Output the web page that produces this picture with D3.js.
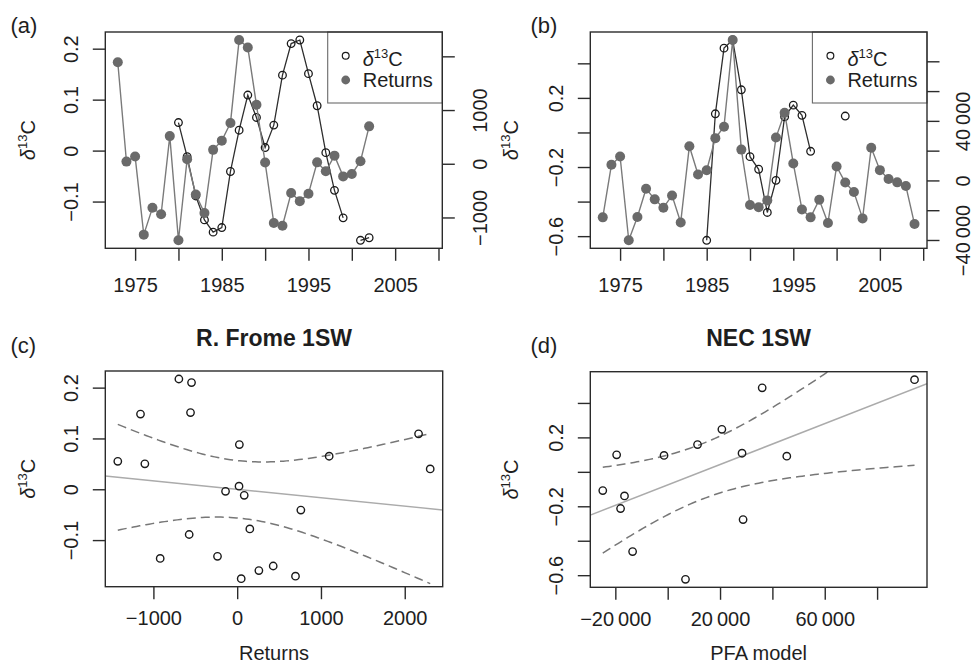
<!DOCTYPE html>
<html><head><meta charset="utf-8">
<script src="https://cdn.jsdelivr.net/npm/d3@7"></script>
<style>
body{margin:0;background:#fff}
svg{display:block}
</style>
</head><body>
<svg id="chart" width="972" height="663"></svg>
<script>
// ---------------- data ----------------
const yearsA = [1973,1974,1975,1976,1977,1978,1979,1980,1981,1982,1983,1984,1985,1986,1987,1988,1989,1990,1991,1992,1993,1994,1995,1996,1997,1998,1999,2000,2001,2002];
const returnsA = [1890,40,135,-1320,-820,-940,515,-1425,84,-573,-919,259,430,760,2304,2165,1098,22,-1102,-1154,-545,-696,-557,26,-139,151,-235,-192,48,696];
const d13cA = [null,null,null,null,null,null,null,0.055,-0.012,-0.089,-0.136,-0.160,-0.151,-0.041,0.040,0.109,0.065,0.006,0.050,0.148,0.210,0.217,0.151,0.088,-0.004,-0.078,-0.132,null,-0.176,-0.171];

const yearsB = [1973,1974,1975,1976,1977,1978,1979,1980,1981,1982,1983,1984,1985,1986,1987,1988,1989,1990,1991,1992,1993,1994,1995,1996,1997,1998,1999,2000,2001,2002,2003,2004,2005,2006,2007,2008,2009];
const returnsB = [-24800,10500,16100,-40200,-24600,-5600,-12700,-18300,-10100,-28200,23000,4000,6800,28400,36100,94300,20700,-16500,-18000,-13400,28800,45500,11400,-19500,-24800,-13000,-28600,9400,-1400,-7800,-25500,21900,6900,900,-1300,-3800,-29300];
const d13cB = [null,null,null,null,null,null,null,null,null,null,null,null,-0.624,0.108,0.488,0.535,0.247,-0.140,-0.213,-0.463,-0.277,0.091,0.158,0.099,-0.109,null,null,null,0.095,null,null,null,null,null,null,null,null];

const yearTicks = [1975,1980,1985,1990,1995,2000,2005,2010];
const yearTickLabels = [1975,1985,1995,2005];
const dTicksA = [-0.1,0.0,0.1,0.2];
const rTicksA = [-1000,0,1000,2000];
const rTickLabelsA = [-1000,0,1000];
const dTicksB = [-0.6,-0.4,-0.2,0.0,0.2,0.4];
const dTickLabelsB = [-0.6,-0.2,0.2];
const rTicksB = [-40000,-20000,0,20000,40000,60000,80000];
const rTickLabelsB = [-40000,0,40000];
const xTicksC = [-1000,0,1000,2000];
const xTicksD = [-20000,0,20000,40000,60000,80000];
const xTickLabelsD = [-20000,20000,60000];

const panelLabels = ["(a)","(b)","(c)","(d)"];
const titles = ["R. Frome 1SW","NEC 1SW"];
const legendLabels = ["Returns"];
const xTitles = ["Returns","PFA model"];

// t quantiles (0.975) for df = n-2
const tq = {20:2.085963, 12:2.178813};

// ---------------- helpers ----------------
const FONT = '"Liberation Sans", Arial, Helvetica, sans-serif';
const svg = d3.select("#chart");
svg.append("rect").attr("width",972).attr("height",663).attr("fill","#fff");

function padExtent(v){const e=d3.extent(v);const r=e[1]-e[0];return [e[0]-0.04*r,e[1]+0.04*r];}
function fmtNum(d){
  const a=Math.abs(d);let s;
  if(Number.isInteger(d)){s=String(a); if(s.length>4) s=s.slice(0,-3)+"\u2009"+s.slice(-3);}
  else s=a.toFixed(1);
  return (d<0?"\u2212":"")+s;
}
const COL_AX="#2b2b2b";

function box(g,b){
  g.append("rect").attr("x",b.x0).attr("y",b.y0).attr("width",b.x1-b.x0).attr("height",b.y1-b.y0)
   .attr("fill","none").attr("stroke",COL_AX).attr("stroke-width",1.4);
}
function styleAxis(g){
  g.select(".domain").remove();
  g.attr("font-family",FONT).attr("font-size",20).attr("color",COL_AX);
  g.selectAll(".tick line").attr("stroke-width",1.4);
  g.selectAll(".tick text").attr("fill","#1e1e1e");
}
function bottomAxis(g,scale,b,ticks,labels,off){
  g.append("g").attr("transform",`translate(0,${b.y1})`)
   .call(d3.axisBottom(scale).tickValues(ticks).tickSize(12.5).tickFormat(d=>labels.includes(d)?fmtNum(d):""))
   .call(styleAxis)
   .call(a=>a.selectAll(".tick text").attr("y",off).attr("dy",0));
}
function leftAxis(g,scale,b,ticks,labels,off){
  g.append("g").attr("transform",`translate(${b.x0},0)`)
   .call(d3.axisLeft(scale).tickValues(ticks).tickSize(12.5).tickFormat(d=>labels.some(l=>Math.abs(l-d)<1e-9)?fmtNum(d):""))
   .call(styleAxis)
   .call(a=>a.selectAll(".tick text").attr("x",null).attr("dy",0).attr("text-anchor","middle")
        .attr("transform",`translate(${-off},0) rotate(-90)`));
}
function rightAxis(g,scale,b,ticks,labels,off){
  g.append("g").attr("transform",`translate(${b.x1},0)`)
   .call(d3.axisRight(scale).tickValues(ticks).tickSize(12.5).tickFormat(d=>labels.includes(d)?fmtNum(d):""))
   .call(styleAxis)
   .call(a=>a.selectAll(".tick text").attr("x",null).attr("dy",0).attr("text-anchor","middle")
        .attr("transform",`translate(${off},0) rotate(-90)`));
}
function d13cText(t,supSize){
  t.append("tspan").attr("font-style","italic").text("\u03b4");
  t.append("tspan").attr("font-size",supSize).attr("dy",-8).text("13");
  t.append("tspan").attr("dy",8).text("C");
}
function yTitle(g,x,b){
  const t=g.append("text").attr("font-family",FONT).attr("font-size",20).attr("fill","#1e1e1e")
    .attr("text-anchor","middle").attr("transform",`translate(${x},${(b.y0+b.y1)/2}) rotate(-90)`);
  d13cText(t,13);
}
function panelLabel(g,txt,x,y){
  g.append("text").attr("x",x).attr("y",y).attr("font-family",FONT).attr("font-size",22).attr("fill","#1e1e1e").text(txt);
}
function clip(id,b){
  svg.append("clipPath").attr("id",id).append("rect").attr("x",b.x0).attr("y",b.y0).attr("width",b.x1-b.x0).attr("height",b.y1-b.y0);
}
function legend(g,b){
  const w=114.6,h=71,lx=b.x1-w,ly=b.y0;
  g.append("rect").attr("x",lx).attr("y",ly).attr("width",w).attr("height",h).attr("fill","#fff").attr("stroke","#6a6a6a").attr("stroke-width",1.1);
  g.append("circle").attr("cx",lx+18).attr("cy",ly+23.7).attr("r",3.4).attr("fill","none").attr("stroke","#1a1a1a").attr("stroke-width",1.2);
  g.append("circle").attr("cx",lx+18).attr("cy",ly+48).attr("r",4.4).attr("fill","#6a6a6a");
  const t=g.append("text").attr("x",lx+35).attr("y",ly+34).attr("font-family",FONT).attr("font-size",20).attr("fill","#1e1e1e");
  d13cText(t,13);
  g.append("text").attr("x",lx+35).attr("y",ly+54.7).attr("font-family",FONT).attr("font-size",20).attr("fill","#1e1e1e").text(legendLabels[0]);
}

// ---------------- time-series panels ----------------
function tsPanel(id,b,years,ret,d13,opt){
  const g=svg.append("g");
  clip(id,b);
  const x=d3.scaleLinear().domain(padExtent(yearsB)).range([b.x0,b.x1]);
  const yL=d3.scaleLinear().domain(padExtent(d13.filter(v=>v!=null))).range([b.y1,b.y0]);
  const yR=d3.scaleLinear().domain(padExtent(ret)).range([b.y1,b.y0]);
  const dd=years.map((yr,i)=>({yr,v:d13[i]}));
  const rr=years.map((yr,i)=>({yr,v:ret[i]}));
  const pg=g.append("g").attr("clip-path",`url(#${id})`);
  // delta line + open points
  pg.append("path").datum(dd).attr("fill","none").attr("stroke","#2e2e2e").attr("stroke-width",1.3)
    .attr("d",d3.line().defined(d=>d.v!=null).x(d=>x(d.yr)).y(d=>yL(d.v)));
  pg.selectAll("circle.o").data(dd.filter(d=>d.v!=null)).join("circle").attr("class","o")
    .attr("cx",d=>x(d.yr)).attr("cy",d=>yL(d.v)).attr("r",3.8).attr("fill","none").attr("stroke","#1a1a1a").attr("stroke-width",1.3);
  // returns line + filled points
  pg.append("path").datum(rr).attr("fill","none").attr("stroke","#7a7a7a").attr("stroke-width",1.4)
    .attr("d",d3.line().x(d=>x(d.yr)).y(d=>yR(d.v)));
  pg.selectAll("circle.f").data(rr).join("circle").attr("class","f")
    .attr("cx",d=>x(d.yr)).attr("cy",d=>yR(d.v)).attr("r",5).attr("fill","#6a6a6a");
  legend(g,b);
  box(g,b);
  bottomAxis(g,x,b,yearTicks,yearTickLabels,43.5);
  leftAxis(g,yL,b,opt.lt,opt.ll,27);
  rightAxis(g,yR,b,opt.rt,opt.rl,opt.roff);
  yTitle(g,opt.titleX,b);
  panelLabel(g,opt.label,opt.lx,33);
}

const bA={x0:105.3,x1:442.3,y0:32,y1:248.3};
const bB={x0:590.3,x1:927,y0:32,y1:248.3};
const bC={x0:105.3,x1:442.7,y0:371,y1:586.7};
const bD={x0:590.3,x1:927,y0:371.7,y1:587.3};

tsPanel("clipA",bA,yearsA,returnsA,d13cA,{lt:dTicksA,ll:dTicksA,rt:rTicksA,rl:rTickLabelsA,roff:44.4,titleX:34.5,label:panelLabels[0],lx:10.5});
tsPanel("clipB",bB,yearsB,returnsB,d13cB,{lt:dTicksB,ll:dTickLabelsB,rt:rTicksB,rl:rTickLabelsB,roff:43,titleX:518,label:panelLabels[1],lx:530.4});

// ---------------- scatter panels ----------------
function scatterPanel(id,b,years,ret,d13,opt){
  const g=svg.append("g");
  clip(id,b);
  const pts=years.map((yr,i)=>({x:ret[i],y:d13[i]})).filter(d=>d.y!=null);
  const x=d3.scaleLinear().domain(padExtent(pts.map(d=>d.x))).range([b.x0,b.x1]);
  const y=d3.scaleLinear().domain(padExtent(pts.map(d=>d.y))).range([b.y1,b.y0]);
  // OLS fit with 95% confidence band
  const n=pts.length, mx=d3.mean(pts,d=>d.x), my=d3.mean(pts,d=>d.y);
  const sxx=d3.sum(pts,d=>(d.x-mx)**2), sxy=d3.sum(pts,d=>(d.x-mx)*(d.y-my));
  const slope=sxy/sxx, icpt=my-slope*mx;
  const s=Math.sqrt(d3.sum(pts,d=>(d.y-icpt-slope*d.x)**2)/(n-2));
  const t=tq[n-2];
  const [xmin,xmax]=d3.extent(pts,d=>d.x);
  const grid=d3.range(0,101).map(k=>xmin+(xmax-xmin)*k/100);
  const band=grid.map(xv=>{const f=icpt+slope*xv;const se=s*Math.sqrt(1/n+(xv-mx)**2/sxx);return {x:xv,lo:f-t*se,hi:f+t*se};});
  const pg=g.append("g").attr("clip-path",`url(#${id})`);
  const dom=x.domain();
  pg.append("path").datum(dom).attr("fill","none").attr("stroke","#ababab").attr("stroke-width",1.5)
    .attr("d",d3.line().x(d=>x(d)).y(d=>y(icpt+slope*d)));
  ["lo","hi"].forEach(k=>{
    pg.append("path").datum(band).attr("fill","none").attr("stroke","#777").attr("stroke-width",1.5)
      .attr("stroke-dasharray","9,5").attr("d",d3.line().x(d=>x(d.x)).y(d=>y(d[k])));
  });
  pg.selectAll("circle").data(pts).join("circle").attr("cx",d=>x(d.x)).attr("cy",d=>y(d.y))
    .attr("r",3.7).attr("fill","none").attr("stroke","#1a1a1a").attr("stroke-width",1.4);
  box(g,b);
  bottomAxis(g,x,b,opt.xt,opt.xl,38.3);
  leftAxis(g,y,b,opt.yt,opt.yl,27);
  yTitle(g,opt.titleX,b);
  panelLabel(g,opt.label,opt.lx,353.3);
  g.append("text").attr("x",(b.x0+b.x1)/2).attr("y",346).attr("text-anchor","middle").attr("font-family",FONT)
    .attr("font-size",23).attr("font-weight","bold").attr("fill","#1e1e1e").text(opt.title);
  g.append("text").attr("x",(b.x0+b.x1)/2).attr("y",659.5).attr("text-anchor","middle").attr("font-family",FONT)
    .attr("font-size",20).attr("fill","#1e1e1e").text(opt.xtitle);
}

scatterPanel("clipC",bC,yearsA,returnsA,d13cA,{xt:xTicksC,xl:xTicksC,yt:dTicksA,yl:dTicksA,titleX:34.5,label:panelLabels[2],lx:10.5,title:titles[0],xtitle:xTitles[0]});
scatterPanel("clipD",bD,yearsB,returnsB,d13cB,{xt:xTicksD,xl:xTickLabelsD,yt:dTicksB,yl:dTickLabelsB,titleX:518,label:panelLabels[3],lx:530.4,title:titles[1],xtitle:xTitles[1]});
</script>
</body></html>
